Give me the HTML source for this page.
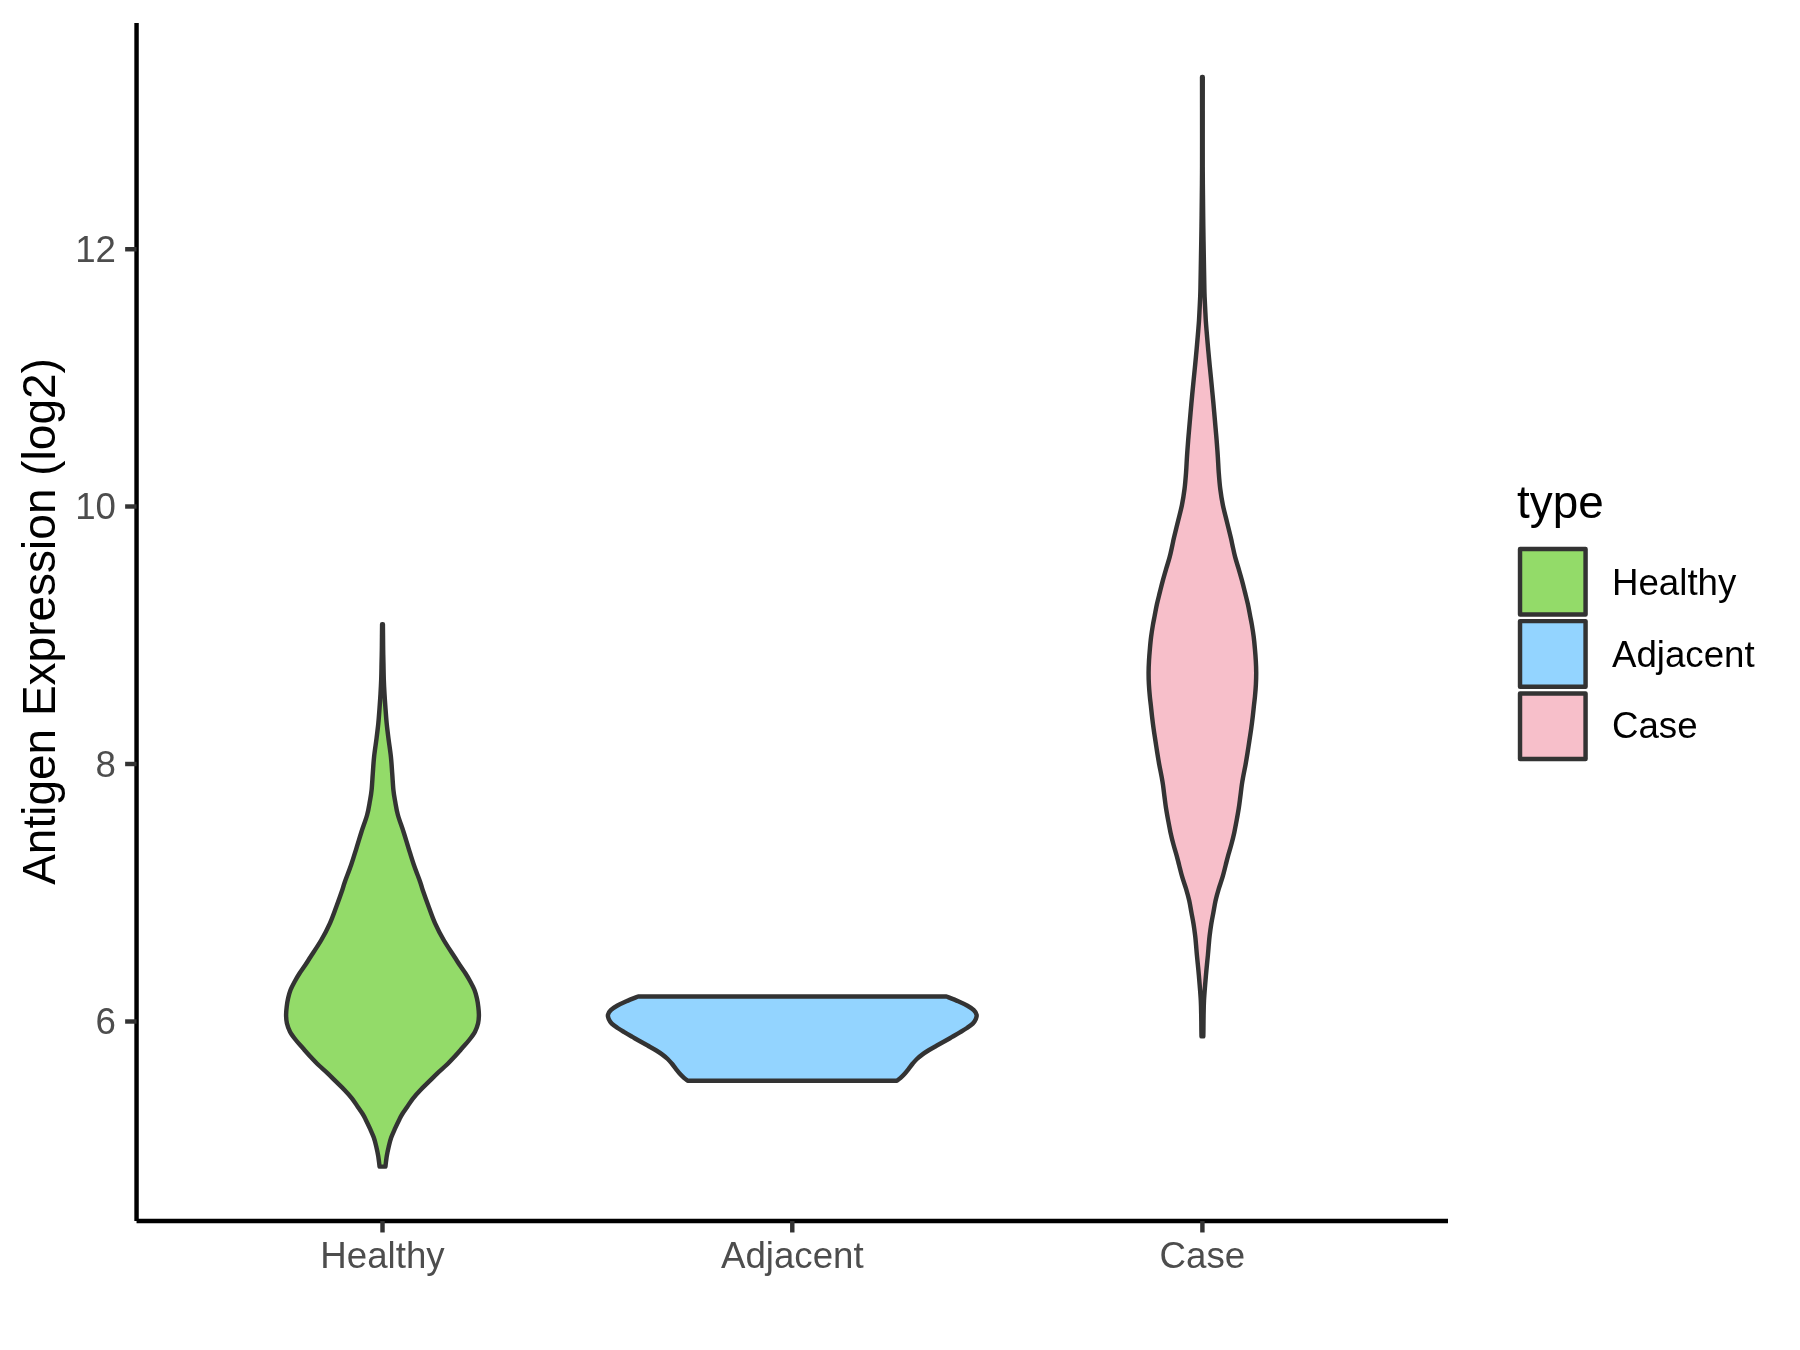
<!DOCTYPE html>
<html><head><meta charset="utf-8"><style>
html,body{margin:0;padding:0;background:#fff;}
body{width:1800px;height:1350px;overflow:hidden;}
svg{display:block;font-family:"Liberation Sans", sans-serif;will-change:transform;}
</style></head><body>
<svg width="1800" height="1350" viewBox="0 0 1800 1350">
<rect width="1800" height="1350" fill="#FFFFFF"/>
<path d="M382.10,624.20 C382.08,626.17 382.02,631.70 381.98,636.00 C381.94,640.30 381.91,645.33 381.84,650.00 C381.77,654.67 381.65,659.17 381.55,664.00 C381.45,668.83 381.40,674.00 381.22,679.00 C381.05,684.00 380.78,689.17 380.50,694.00 C380.22,698.83 379.91,703.17 379.55,708.00 C379.19,712.83 378.84,718.00 378.35,723.00 C377.86,728.00 377.31,732.38 376.60,738.00 C375.89,743.62 374.73,750.82 374.10,756.70 C373.47,762.58 373.22,767.75 372.80,773.30 C372.38,778.85 372.08,785.37 371.60,790.00 C371.12,794.63 370.65,796.93 369.90,801.10 C369.15,805.27 368.50,809.90 367.10,815.00 C365.70,820.10 363.28,826.15 361.50,831.70 C359.72,837.25 358.13,842.75 356.40,848.30 C354.67,853.85 353.02,859.43 351.10,865.00 C349.18,870.57 346.37,877.53 344.90,881.70 C343.43,885.87 343.73,885.83 342.30,890.00 C340.87,894.17 338.37,901.15 336.30,906.70 C334.23,912.25 332.40,917.75 329.90,923.30 C327.40,928.85 324.52,934.43 321.30,940.00 C318.08,945.57 313.27,952.53 310.60,956.70 C307.93,960.87 307.13,962.23 305.30,965.00 C303.47,967.77 301.38,970.52 299.60,973.30 C297.82,976.08 296.12,978.92 294.60,981.70 C293.08,984.48 291.58,987.23 290.50,990.00 C289.42,992.77 288.73,995.52 288.10,998.30 C287.47,1001.08 287.03,1003.92 286.70,1006.70 C286.37,1009.48 286.07,1012.23 286.10,1015.00 C286.13,1017.77 286.25,1020.52 286.90,1023.30 C287.55,1026.08 288.52,1028.92 290.00,1031.70 C291.48,1034.48 293.63,1037.23 295.80,1040.00 C297.97,1042.77 300.55,1045.52 303.00,1048.30 C305.45,1051.08 307.92,1053.92 310.50,1056.70 C313.08,1059.48 315.63,1062.23 318.50,1065.00 C321.37,1067.77 324.77,1070.52 327.70,1073.30 C330.63,1076.08 333.30,1078.92 336.10,1081.70 C338.90,1084.48 341.87,1087.23 344.50,1090.00 C347.13,1092.77 349.70,1095.52 351.90,1098.30 C354.10,1101.08 355.90,1104.08 357.70,1106.70 C359.50,1109.32 361.40,1111.92 362.70,1114.00 C364.00,1116.08 364.30,1116.80 365.50,1119.20 C366.70,1121.60 368.52,1125.33 369.90,1128.40 C371.28,1131.47 372.73,1134.55 373.80,1137.60 C374.87,1140.65 375.57,1143.65 376.30,1146.70 C377.03,1149.75 377.65,1152.58 378.20,1155.90 C378.75,1159.22 379.37,1164.82 379.60,1166.60 L385.40,1166.60 C385.63,1164.82 386.25,1159.22 386.80,1155.90 C387.35,1152.58 387.97,1149.75 388.70,1146.70 C389.43,1143.65 390.13,1140.65 391.20,1137.60 C392.27,1134.55 393.72,1131.47 395.10,1128.40 C396.48,1125.33 398.30,1121.60 399.50,1119.20 C400.70,1116.80 401.00,1116.08 402.30,1114.00 C403.60,1111.92 405.50,1109.32 407.30,1106.70 C409.10,1104.08 410.90,1101.08 413.10,1098.30 C415.30,1095.52 417.87,1092.77 420.50,1090.00 C423.13,1087.23 426.10,1084.48 428.90,1081.70 C431.70,1078.92 434.37,1076.08 437.30,1073.30 C440.23,1070.52 443.63,1067.77 446.50,1065.00 C449.37,1062.23 451.92,1059.48 454.50,1056.70 C457.08,1053.92 459.55,1051.08 462.00,1048.30 C464.45,1045.52 467.03,1042.77 469.20,1040.00 C471.37,1037.23 473.52,1034.48 475.00,1031.70 C476.48,1028.92 477.45,1026.08 478.10,1023.30 C478.75,1020.52 478.87,1017.77 478.90,1015.00 C478.93,1012.23 478.63,1009.48 478.30,1006.70 C477.97,1003.92 477.53,1001.08 476.90,998.30 C476.27,995.52 475.58,992.77 474.50,990.00 C473.42,987.23 471.92,984.48 470.40,981.70 C468.88,978.92 467.18,976.08 465.40,973.30 C463.62,970.52 461.53,967.77 459.70,965.00 C457.87,962.23 457.07,960.87 454.40,956.70 C451.73,952.53 446.92,945.57 443.70,940.00 C440.48,934.43 437.60,928.85 435.10,923.30 C432.60,917.75 430.77,912.25 428.70,906.70 C426.63,901.15 424.13,894.17 422.70,890.00 C421.27,885.83 421.57,885.87 420.10,881.70 C418.63,877.53 415.82,870.57 413.90,865.00 C411.98,859.43 410.33,853.85 408.60,848.30 C406.87,842.75 405.28,837.25 403.50,831.70 C401.72,826.15 399.30,820.10 397.90,815.00 C396.50,809.90 395.85,805.27 395.10,801.10 C394.35,796.93 393.88,794.63 393.40,790.00 C392.92,785.37 392.62,778.85 392.20,773.30 C391.78,767.75 391.53,762.58 390.90,756.70 C390.27,750.82 389.11,743.62 388.40,738.00 C387.69,732.38 387.14,728.00 386.65,723.00 C386.16,718.00 385.81,712.83 385.45,708.00 C385.09,703.17 384.78,698.83 384.50,694.00 C384.22,689.17 383.95,684.00 383.78,679.00 C383.60,674.00 383.55,668.83 383.45,664.00 C383.35,659.17 383.23,654.67 383.16,650.00 C383.09,645.33 383.06,640.30 383.02,636.00 C382.98,631.70 382.92,626.17 382.90,624.20 Z" fill="#93DB69" stroke="#333333" stroke-width="4.446" stroke-linejoin="round"/>
<path d="M638.18,996.50 C636.21,997.30 629.90,999.75 626.38,1001.30 C622.86,1002.85 619.68,1004.32 617.08,1005.80 C614.48,1007.28 612.30,1008.72 610.78,1010.20 C609.26,1011.68 608.31,1013.22 607.98,1014.70 C607.65,1016.18 608.15,1017.62 608.78,1019.10 C609.41,1020.58 610.31,1022.12 611.78,1023.60 C613.25,1025.08 615.43,1026.53 617.58,1028.00 C619.73,1029.47 622.21,1030.92 624.68,1032.40 C627.15,1033.88 629.83,1035.42 632.38,1036.90 C634.93,1038.38 637.36,1039.82 639.98,1041.30 C642.60,1042.78 645.36,1044.27 648.08,1045.80 C650.80,1047.33 653.90,1049.03 656.28,1050.50 C658.66,1051.97 660.48,1053.18 662.38,1054.60 C664.28,1056.02 666.11,1057.52 667.68,1059.00 C669.25,1060.48 670.41,1061.87 671.78,1063.50 C673.15,1065.13 674.53,1067.10 675.88,1068.80 C677.23,1070.50 678.53,1072.20 679.88,1073.70 C681.23,1075.20 682.68,1076.63 683.98,1077.80 C685.28,1078.97 687.06,1080.22 687.68,1080.70 L896.88,1080.70 C897.50,1080.22 899.28,1078.97 900.58,1077.80 C901.88,1076.63 903.33,1075.20 904.68,1073.70 C906.03,1072.20 907.33,1070.50 908.68,1068.80 C910.03,1067.10 911.41,1065.13 912.78,1063.50 C914.15,1061.87 915.31,1060.48 916.88,1059.00 C918.45,1057.52 920.28,1056.02 922.18,1054.60 C924.08,1053.18 925.90,1051.97 928.28,1050.50 C930.66,1049.03 933.76,1047.33 936.48,1045.80 C939.20,1044.27 941.96,1042.78 944.58,1041.30 C947.20,1039.82 949.63,1038.38 952.18,1036.90 C954.73,1035.42 957.41,1033.88 959.88,1032.40 C962.35,1030.92 964.83,1029.47 966.98,1028.00 C969.13,1026.53 971.31,1025.08 972.78,1023.60 C974.25,1022.12 975.15,1020.58 975.78,1019.10 C976.41,1017.62 976.91,1016.18 976.58,1014.70 C976.25,1013.22 975.30,1011.68 973.78,1010.20 C972.26,1008.72 970.08,1007.28 967.48,1005.80 C964.88,1004.32 961.70,1002.85 958.18,1001.30 C954.66,999.75 948.35,997.30 946.38,996.50 Z" fill="#93D4FF" stroke="#333333" stroke-width="4.446" stroke-linejoin="round"/>
<path d="M1202.05,77.00 C1202.06,87.50 1202.10,124.17 1202.10,140.00 C1202.10,155.83 1202.09,162.83 1202.05,172.00 C1202.01,181.17 1201.94,186.00 1201.85,195.00 C1201.76,204.00 1201.65,215.67 1201.51,226.00 C1201.37,236.33 1201.18,246.67 1201.00,257.00 C1200.82,267.33 1200.59,281.33 1200.45,288.00 C1200.31,294.67 1200.32,293.50 1200.18,297.00 C1200.04,300.50 1199.80,305.07 1199.60,309.00 C1199.40,312.93 1199.23,316.93 1199.00,320.60 C1198.77,324.27 1198.52,327.05 1198.20,331.00 C1197.88,334.95 1197.41,340.40 1197.07,344.30 C1196.73,348.20 1196.47,350.95 1196.15,354.40 C1195.83,357.85 1195.55,360.92 1195.15,365.00 C1194.75,369.08 1194.38,372.52 1193.75,378.90 C1193.12,385.28 1192.15,395.15 1191.40,403.30 C1190.65,411.45 1189.78,421.68 1189.25,427.80 C1188.72,433.92 1188.58,435.25 1188.20,440.00 C1187.83,444.75 1187.36,450.87 1187.00,456.30 C1186.64,461.73 1186.46,467.17 1186.05,472.60 C1185.64,478.03 1185.24,483.47 1184.55,488.90 C1183.86,494.33 1183.00,499.77 1181.90,505.20 C1180.80,510.63 1179.28,516.07 1177.95,521.50 C1176.62,526.93 1174.88,533.88 1173.95,537.80 C1173.03,541.72 1173.11,541.82 1172.40,545.00 C1171.69,548.18 1170.73,552.95 1169.70,556.90 C1168.67,560.85 1167.35,564.75 1166.20,568.70 C1165.05,572.65 1163.87,576.65 1162.80,580.60 C1161.73,584.55 1160.78,588.45 1159.80,592.40 C1158.82,596.35 1157.77,600.35 1156.90,604.30 C1156.03,608.25 1155.27,612.65 1154.60,616.10 C1153.93,619.55 1153.48,621.53 1152.90,625.00 C1152.32,628.47 1151.60,632.95 1151.10,636.90 C1150.60,640.85 1150.25,644.75 1149.90,648.70 C1149.55,652.65 1149.22,656.65 1149.00,660.60 C1148.78,664.55 1148.62,668.45 1148.60,672.40 C1148.58,676.35 1148.70,680.35 1148.90,684.30 C1149.10,688.25 1149.48,692.65 1149.80,696.10 C1150.12,699.55 1150.42,701.53 1150.80,705.00 C1151.18,708.47 1151.63,712.95 1152.10,716.90 C1152.57,720.85 1153.05,724.75 1153.60,728.70 C1154.15,732.65 1154.80,736.65 1155.40,740.60 C1156.00,744.55 1156.57,748.45 1157.20,752.40 C1157.83,756.35 1158.48,760.35 1159.20,764.30 C1159.92,768.25 1160.87,772.65 1161.50,776.10 C1162.13,779.55 1162.50,781.53 1163.00,785.00 C1163.50,788.47 1163.98,792.95 1164.50,796.90 C1165.02,800.85 1165.48,804.75 1166.10,808.70 C1166.72,812.65 1167.47,816.65 1168.20,820.60 C1168.93,824.55 1169.63,828.45 1170.50,832.40 C1171.37,836.35 1172.35,840.35 1173.40,844.30 C1174.45,848.25 1175.85,852.65 1176.80,856.10 C1177.75,859.55 1178.20,861.53 1179.10,865.00 C1180.00,868.47 1181.05,872.95 1182.20,876.90 C1183.35,880.85 1184.83,884.75 1186.00,888.70 C1187.17,892.65 1188.30,896.65 1189.20,900.60 C1190.10,904.55 1190.67,908.45 1191.40,912.40 C1192.13,916.35 1192.97,920.35 1193.60,924.30 C1194.23,928.25 1194.79,932.65 1195.20,936.10 C1195.61,939.55 1195.77,941.83 1196.05,945.00 C1196.33,948.17 1196.51,950.90 1196.90,955.10 C1197.29,959.30 1197.93,965.17 1198.40,970.20 C1198.87,975.23 1199.30,980.27 1199.70,985.30 C1200.10,990.33 1200.55,995.35 1200.80,1000.40 C1201.06,1005.45 1201.13,1010.55 1201.23,1015.60 C1201.33,1020.65 1201.36,1027.23 1201.40,1030.70 C1201.45,1034.17 1201.48,1035.45 1201.50,1036.40 L1203.30,1036.40 C1203.32,1035.45 1203.36,1034.17 1203.40,1030.70 C1203.45,1027.23 1203.47,1020.65 1203.57,1015.60 C1203.67,1010.55 1203.74,1005.45 1204.00,1000.40 C1204.26,995.35 1204.70,990.33 1205.10,985.30 C1205.50,980.27 1205.93,975.23 1206.40,970.20 C1206.87,965.17 1207.51,959.30 1207.90,955.10 C1208.29,950.90 1208.47,948.17 1208.75,945.00 C1209.03,941.83 1209.19,939.55 1209.60,936.10 C1210.01,932.65 1210.57,928.25 1211.20,924.30 C1211.83,920.35 1212.67,916.35 1213.40,912.40 C1214.13,908.45 1214.70,904.55 1215.60,900.60 C1216.50,896.65 1217.63,892.65 1218.80,888.70 C1219.97,884.75 1221.45,880.85 1222.60,876.90 C1223.75,872.95 1224.80,868.47 1225.70,865.00 C1226.60,861.53 1227.05,859.55 1228.00,856.10 C1228.95,852.65 1230.35,848.25 1231.40,844.30 C1232.45,840.35 1233.43,836.35 1234.30,832.40 C1235.17,828.45 1235.87,824.55 1236.60,820.60 C1237.33,816.65 1238.08,812.65 1238.70,808.70 C1239.32,804.75 1239.78,800.85 1240.30,796.90 C1240.82,792.95 1241.30,788.47 1241.80,785.00 C1242.30,781.53 1242.67,779.55 1243.30,776.10 C1243.93,772.65 1244.88,768.25 1245.60,764.30 C1246.32,760.35 1246.97,756.35 1247.60,752.40 C1248.23,748.45 1248.80,744.55 1249.40,740.60 C1250.00,736.65 1250.65,732.65 1251.20,728.70 C1251.75,724.75 1252.23,720.85 1252.70,716.90 C1253.17,712.95 1253.62,708.47 1254.00,705.00 C1254.38,701.53 1254.68,699.55 1255.00,696.10 C1255.32,692.65 1255.70,688.25 1255.90,684.30 C1256.10,680.35 1256.22,676.35 1256.20,672.40 C1256.18,668.45 1256.02,664.55 1255.80,660.60 C1255.58,656.65 1255.25,652.65 1254.90,648.70 C1254.55,644.75 1254.20,640.85 1253.70,636.90 C1253.20,632.95 1252.48,628.47 1251.90,625.00 C1251.32,621.53 1250.87,619.55 1250.20,616.10 C1249.53,612.65 1248.77,608.25 1247.90,604.30 C1247.03,600.35 1245.98,596.35 1245.00,592.40 C1244.02,588.45 1243.07,584.55 1242.00,580.60 C1240.93,576.65 1239.75,572.65 1238.60,568.70 C1237.45,564.75 1236.13,560.85 1235.10,556.90 C1234.07,552.95 1233.11,548.18 1232.40,545.00 C1231.69,541.82 1231.78,541.72 1230.85,537.80 C1229.93,533.88 1228.18,526.93 1226.85,521.50 C1225.53,516.07 1224.00,510.63 1222.90,505.20 C1221.80,499.77 1220.94,494.33 1220.25,488.90 C1219.56,483.47 1219.16,478.03 1218.75,472.60 C1218.34,467.17 1218.16,461.73 1217.80,456.30 C1217.44,450.87 1216.98,444.75 1216.60,440.00 C1216.23,435.25 1216.08,433.92 1215.55,427.80 C1215.02,421.68 1214.15,411.45 1213.40,403.30 C1212.65,395.15 1211.68,385.28 1211.05,378.90 C1210.43,372.52 1210.05,369.08 1209.65,365.00 C1209.25,360.92 1208.97,357.85 1208.65,354.40 C1208.33,350.95 1208.07,348.20 1207.73,344.30 C1207.39,340.40 1206.92,334.95 1206.60,331.00 C1206.28,327.05 1206.03,324.27 1205.80,320.60 C1205.57,316.93 1205.40,312.93 1205.20,309.00 C1205.00,305.07 1204.76,300.50 1204.62,297.00 C1204.48,293.50 1204.49,294.67 1204.35,288.00 C1204.21,281.33 1203.98,267.33 1203.80,257.00 C1203.62,246.67 1203.43,236.33 1203.29,226.00 C1203.15,215.67 1203.04,204.00 1202.95,195.00 C1202.86,186.00 1202.79,181.17 1202.75,172.00 C1202.71,162.83 1202.70,155.83 1202.70,140.00 C1202.70,124.17 1202.74,87.50 1202.75,77.00 Z" fill="#F7BFCA" stroke="#333333" stroke-width="4.446" stroke-linejoin="round"/>
<line x1="136.55" y1="23.10" x2="136.55" y2="1221.05" stroke="#000" stroke-width="4.446"/>
<line x1="136.55" y1="1221.05" x2="1448.00" y2="1221.05" stroke="#000" stroke-width="4.446"/>
<line x1="125.13" y1="1021.50" x2="136.55" y2="1021.50" stroke="#333333" stroke-width="4.446"/>
<text x="116" y="1034.10" text-anchor="end" fill="#4D4D4D" font-size="36.67">6</text>
<line x1="125.13" y1="764.00" x2="136.55" y2="764.00" stroke="#333333" stroke-width="4.446"/>
<text x="116" y="776.60" text-anchor="end" fill="#4D4D4D" font-size="36.67">8</text>
<line x1="125.13" y1="506.50" x2="136.55" y2="506.50" stroke="#333333" stroke-width="4.446"/>
<text x="116" y="519.10" text-anchor="end" fill="#4D4D4D" font-size="36.67">10</text>
<line x1="125.13" y1="249.25" x2="136.55" y2="249.25" stroke="#333333" stroke-width="4.446"/>
<text x="116" y="261.85" text-anchor="end" fill="#4D4D4D" font-size="36.67">12</text>
<line x1="382.50" y1="1221.05" x2="382.50" y2="1232.47" stroke="#333333" stroke-width="4.446"/>
<text x="382.50" y="1267.6" text-anchor="middle" fill="#4D4D4D" font-size="36.67">Healthy</text>
<line x1="792.28" y1="1221.05" x2="792.28" y2="1232.47" stroke="#333333" stroke-width="4.446"/>
<text x="792.28" y="1267.6" text-anchor="middle" fill="#4D4D4D" font-size="36.67">Adjacent</text>
<line x1="1202.40" y1="1221.05" x2="1202.40" y2="1232.47" stroke="#333333" stroke-width="4.446"/>
<text x="1202.40" y="1267.6" text-anchor="middle" fill="#4D4D4D" font-size="36.67">Case</text>
<text transform="translate(55.1,621.5) rotate(-90)" text-anchor="middle" fill="#000" font-size="46.0">Antigen Expression (log2)</text>
<text x="1517" y="518.3" fill="#000" font-size="45.83">type</text>
<rect x="1520.02" y="548.92" width="65.55" height="65.55" fill="#93DB69" stroke="#333333" stroke-width="4.446" stroke-linejoin="round"/>
<rect x="1520.02" y="621.12" width="65.55" height="65.55" fill="#93D4FF" stroke="#333333" stroke-width="4.446" stroke-linejoin="round"/>
<rect x="1520.02" y="693.42" width="65.55" height="65.55" fill="#F7BFCA" stroke="#333333" stroke-width="4.446" stroke-linejoin="round"/>
<text x="1612" y="594.70" fill="#000" font-size="36.67">Healthy</text>
<text x="1612" y="666.70" fill="#000" font-size="36.67">Adjacent</text>
<text x="1612" y="738.40" fill="#000" font-size="36.67">Case</text>
</svg>
</body></html>
